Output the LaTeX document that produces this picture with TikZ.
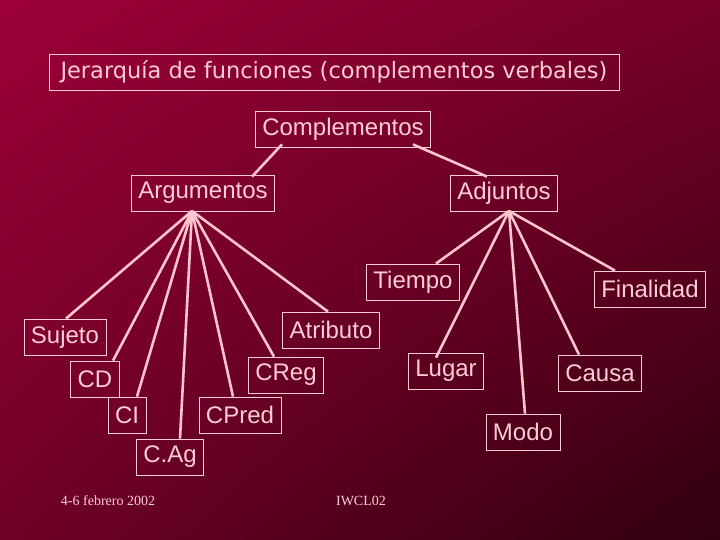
\documentclass[tikz,border=0pt]{standalone}
\usepackage{fontspec}
\setmainfont{Liberation Sans}
\newfontfamily\titlefont{DejaVu Sans}
\newfontfamily\footfont{Liberation Serif}
\usetikzlibrary{positioning,shadings}
\definecolor{slideUL}{RGB}{156,0,56}
\definecolor{slideUR}{RGB}{118,0,42}
\definecolor{slideLL}{RGB}{112,0,40}
\definecolor{slideLR}{RGB}{48,0,14}
\definecolor{pinktext}{RGB}{255,204,214}
\definecolor{linkpink}{RGB}{255,196,206}

\begin{document}
\begin{tikzpicture}[x=1pt,y=-1pt,
    box/.style={draw=pinktext,line width=0.8pt,text=pinktext,inner xsep=7pt,
        minimum height=36pt,font=\fontsize{24}{24}\selectfont},
    link/.style={draw=linkpink,line width=2.6pt}]
    \useasboundingbox (0,0) rectangle (720,540);
    \shade[upper left=slideUL,upper right=slideUR,lower left=slideLL,lower right=slideLR]
        (0,0) rectangle (720,540);

    \node [draw=pinktext,line width=0.8pt,text=pinktext,minimum width=570pt,minimum height=36pt,
        font=\titlefont\fontsize{22.5}{22.5}\selectfont] (title) at (334,72) {Jerarquía de funciones (complementos verbales)};

    \node [box] (compl) at (343,129) {Complementos};
    \node [box] (arg) at (203,193) {Argumentos};
    \node [box] (adj) at (504,193) {Adjuntos};

    \node [box] (sujeto) at (65,337) {Sujeto};
    \node [box] (cd) at (95,379) {CD};
    \node [box] (ci) at (127,415) {CI};
    \node [box] (cag) at (170,457) {C.Ag};
    \node [box] (cpred) at (240,415) {CPred};
    \node [box] (creg) at (286,375) {CReg};
    \node [box] (atrib) at (331,330) {Atributo};

    \node [box] (tiempo) at (413,282) {Tiempo};
    \node [box] (lugar) at (446,371) {Lugar};
    \node [box] (modo) at (523,432) {Modo};
    \node [box] (causa) at (600,373) {Causa};
    \node [box] (final) at (650,289) {Finalidad};

    \node [text=pinktext,font=\footfont\fontsize{14}{14}\selectfont] (fecha) at (108,501) {4-6 febrero 2002};
    \node [text=pinktext,font=\footfont\fontsize{14}{14}\selectfont] (conf) at (361,501) {IWCL02};

    \coordinate (argfoot) at (192,211);
    \coordinate (adjfoot) at (509,211);

    \draw [link] ([xshift=-61pt,yshift=3pt]compl.south) -- ([xshift=49pt,yshift=-2pt]arg.north);
    \draw [link] ([xshift=70pt,yshift=3pt]compl.south) -- ([xshift=-17pt,yshift=-2pt]adj.north);

    \draw [link] (argfoot) -- ([xshift=1pt]sujeto.north);
    \draw [link] (argfoot) -- ([xshift=18pt]cd.north);
    \draw [link] (argfoot) -- ([xshift=10pt]ci.north);
    \draw [link] (argfoot) -- ([xshift=10pt]cag.north);
    \draw [link] (argfoot) -- ([xshift=-7pt]cpred.north);
    \draw [link] (argfoot) -- ([xshift=-12pt]creg.north);
    \draw [link] (argfoot) -- ([xshift=-3pt]atrib.north);

    \draw [link] (adjfoot) -- ([xshift=23pt]tiempo.north);
    \draw [link] (adjfoot) -- ([xshift=-10pt,yshift=-5pt]lugar.north);
    \draw [link] (adjfoot) -- ([xshift=2pt]modo.north);
    \draw [link] (adjfoot) -- ([xshift=-21pt]causa.north);
    \draw [link] (adjfoot) -- ([xshift=-35pt]final.north);
\end{tikzpicture}
\end{document}
